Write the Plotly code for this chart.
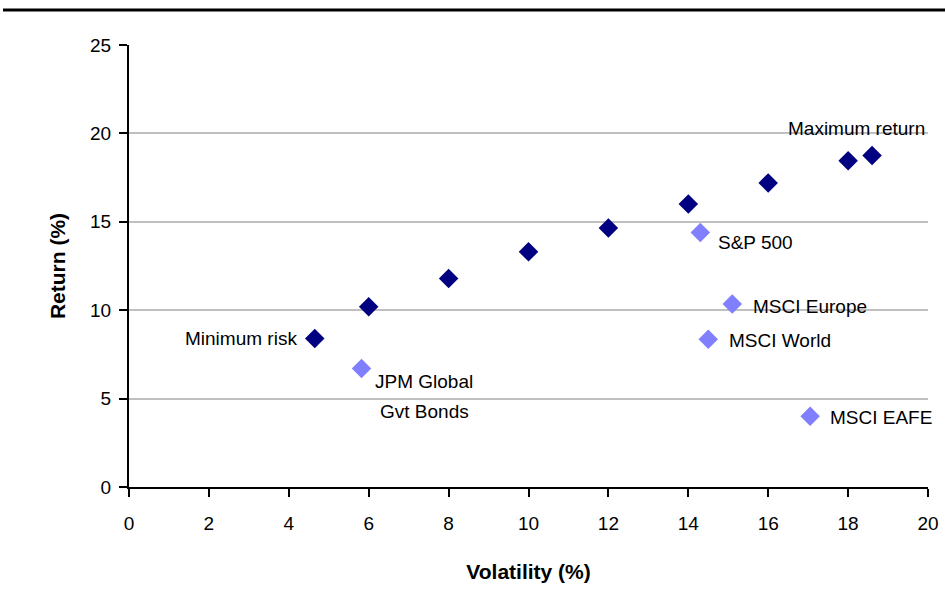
import plotly.graph_objects as go

# Efficient frontier portfolios
frontier_vol = [4.65, 6.0, 8.0, 10.0, 12.0, 14.0, 16.0, 18.0, 18.6]
frontier_ret = [8.4, 10.2, 11.8, 13.3, 14.65, 16.0, 17.2, 18.45, 18.75]

# Benchmark indices
index_names = ["JPM Global<br>Gvt Bonds", "S&P 500", "MSCI Europe", "MSCI World", "MSCI EAFE"]
index_vol = [5.82, 14.3, 15.1, 14.5, 17.05]
index_ret = [6.7, 14.4, 10.35, 8.35, 4.0]

x_ticks = [0, 2, 4, 6, 8, 10, 12, 14, 16, 18, 20]
y_ticks = [0, 5, 10, 15, 20, 25]

FONT = "Liberation Sans, Arial, sans-serif"

fig = go.Figure()
fig.add_trace(go.Scatter(
    x=frontier_vol, y=frontier_ret, mode="markers",
    marker=dict(symbol="diamond", size=15, color="#000080", line=dict(width=0)),
    showlegend=False, cliponaxis=False))
fig.add_trace(go.Scatter(
    x=index_vol, y=index_ret, mode="markers",
    marker=dict(symbol="diamond", size=15, color="#8080FF", line=dict(width=0)),
    showlegend=False, cliponaxis=False))

ann_font = dict(family=FONT, size=19, color="#000000")
annotations = []
# Frontier end labels
annotations.append(dict(x=frontier_vol[0], y=frontier_ret[0], text="Minimum risk",
                        showarrow=False, xanchor="right", yanchor="middle",
                        xshift=-16, yshift=0, font=ann_font))
annotations.append(dict(x=frontier_vol[-1], y=frontier_ret[-1], text="Maximum return",
                        showarrow=False, xanchor="center", yanchor="middle",
                        xshift=-16, yshift=27, font=ann_font))
# Index labels (multi-line labels are laid out line by line, 30px apart)
offsets = [
    (62, -13, "center"),
    (16, -10, "left"),
    (19, -2, "left"),
    (19, -1, "left"),
    (18, -1, "left"),
]
for name, vx, vy, (dx, dy, anc) in zip(index_names, index_vol, index_ret, offsets):
    for i, line in enumerate(name.split("<br>")):
        annotations.append(dict(x=vx, y=vy, text=line, showarrow=False,
                                xanchor=anc, yanchor="middle",
                                xshift=dx + i, yshift=dy - 30 * i,
                                font=ann_font, align="center"))

fig.update_layout(
    width=945, height=611,
    margin=dict(l=129, r=17, t=45, b=124, autoexpand=False),
    paper_bgcolor="white", plot_bgcolor="white",
    font=dict(family=FONT, size=19, color="#000000"),
    annotations=annotations,
    shapes=[dict(type="line", xref="paper", yref="paper",
                 x0=(3 - 129) / 799, x1=(945 - 129) / 799,
                 y0=1 + 35 / 442, y1=1 + 35 / 442,
                 line=dict(color="#000000", width=3))],
    xaxis=dict(
        range=[0, 20], tickvals=x_ticks, ticktext=[str(v) for v in x_ticks],
        showgrid=False, zeroline=False,
        showline=True, linecolor="#000000", linewidth=2,
        ticks="outside", ticklen=8, tickwidth=2, tickcolor="#000000",
        ticklabelstandoff=10,
        tickfont=dict(family=FONT, size=19),
        title=dict(text="<b>Volatility (%)</b>", font=dict(family=FONT, size=21), standoff=32),
    ),
    yaxis=dict(
        range=[0, 25], tickvals=y_ticks, ticktext=[str(v) for v in y_ticks],
        showgrid=True, gridcolor="#C0C0C0", gridwidth=2, zeroline=False,
        showline=True, linecolor="#000000", linewidth=2,
        ticks="outside", ticklen=8, tickwidth=2, tickcolor="#000000",
        ticklabelstandoff=4,
        tickfont=dict(family=FONT, size=19),
        title=dict(text="<b>Return (%)</b>", font=dict(family=FONT, size=21), standoff=19),
    ),
)

# Remove the default page margin so the figure sits at the window's top-left corner
fig.write_html(
    "out.html",
    config={"displayModeBar": False},
    post_script="document.body.style.margin='0';document.body.style.overflow='hidden';",
)
